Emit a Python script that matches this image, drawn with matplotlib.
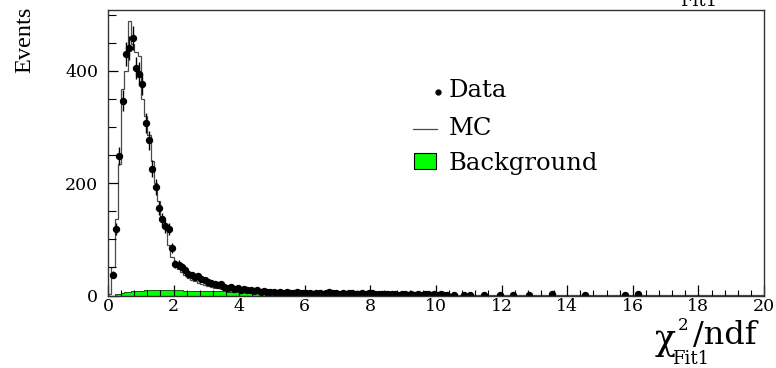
import numpy as np
import matplotlib
matplotlib.use("Agg")
import matplotlib.pyplot as plt
from matplotlib.patches import Rectangle
from matplotlib.lines import Line2D
from matplotlib.ticker import MultipleLocator

# Histogram binning: 200 bins of width 0.1 on [0, 20]
bin_width = 0.1
edges = np.round(np.arange(0, 20.0 + 1e-9, bin_width), 2)

# Observed events per bin
data_counts = [
    0, 37, 119, 248, 347, 430, 440, 459, 405, 395,
    377, 307, 276, 226, 193, 156, 136, 123, 118, 85,
    56, 55, 50, 46, 39, 36, 33, 34, 30, 27,
    24, 22, 21, 18, 20, 16, 14, 15, 12, 14,
    10, 11, 9, 10, 8, 9, 7, 8, 6, 7,
    6, 5, 7, 5, 6, 4, 5, 6, 4, 5,
    4, 5, 3, 4, 5, 3, 4, 6, 5, 4,
    3, 4, 3, 5, 4, 3, 3, 4, 3, 5,
    4, 3, 3, 2, 3, 2, 3, 2, 1, 3,
    2, 1, 2, 1, 2, 1, 3, 2, 1, 2,
    1, 2, 1, 1, 0, 1, 0, 0, 1, 0,
    1, 0, 0, 0, 1, 0, 0, 0, 0, 1,
    0, 0, 0, 1, 0, 0, 0, 0, 1, 0,
    0, 0, 0, 0, 0, 3, 0, 0, 0, 0,
    0, 0, 0, 0, 0, 1, 0, 0, 0, 0,
    0, 0, 0, 0, 0, 0, 0, 1, 0, 0,
    0, 3, 0, 0, 0, 0, 0, 0, 0, 0,
    0, 0, 0, 0, 0, 0, 0, 0, 0, 0,
    0, 0, 0, 0, 0, 0, 0, 0, 0, 0,
    0, 0, 0, 0, 0, 0, 0, 0, 0, 0,
]

# Simulated (MC) expectation per bin
mc_counts = [
    2, 50, 136, 234, 368, 400, 488, 448, 433, 427,
    350, 320, 285, 240, 200, 168, 140, 118, 89, 69,
    55, 47, 41, 36, 31, 28, 25, 22.5, 20, 18,
    16.5, 15, 14, 13, 12, 11, 10, 9.3, 8.6, 8,
    7.5, 7.1, 6.7, 6.3, 6.0, 5.7, 5.4, 5.1, 4.9, 4.7,
    4.5, 4.3, 4.1, 3.9, 3.8, 3.6, 3.5, 3.4, 3.3, 3.2,
    3.1, 3.0, 2.9, 2.8, 2.8, 2.7, 2.6, 2.6, 2.5, 2.4,
    2.4, 2.3, 2.3, 2.2, 2.2, 2.1, 2.1, 2.0, 2.0, 1.9,
    1.9, 1.8, 1.8, 1.8, 1.7, 1.7, 1.6, 1.6, 1.6, 1.5,
    1.5, 1.5, 1.4, 1.4, 1.4, 1.3, 1.3, 1.3, 1.2, 1.2,
    1.2, 1.2, 1.1, 1.1, 1.1, 1.0, 1.1, 1.0, 1.0, 1.0,
    0.9, 1.0, 0.9, 0.9, 0.9, 0.8, 0.9, 0.8, 0.8, 0.8,
    0.8, 0.7, 0.8, 0.7, 0.7, 0.7, 0.7, 0.6, 0.7, 0.6,
    0.6, 0.6, 0.6, 0.6, 0.5, 0.6, 0.5, 0.5, 0.5, 0.5,
    0.5, 0.5, 0.5, 0.4, 0.5, 0.4, 0.4, 0.5, 0.4, 0.4,
    0.4, 0.4, 0.4, 0.4, 0.3, 0.4, 0.3, 0.4, 0.3, 0.3,
    0.3, 0.3, 0.3, 0.3, 0.3, 0.3, 0.3, 0.2, 0.3, 0.3,
    0.2, 0.3, 0.2, 0.2, 0.2, 0.3, 0.2, 0.2, 0.2, 0.2,
    0.2, 0.2, 0.2, 0.2, 0.2, 0.2, 0.1, 0.2, 0.2, 0.2,
    0.1, 0.2, 0.1, 0.1, 0.2, 0.1, 0.1, 0.1, 0.1, 0.1,
]

# Background contribution per bin (zero above 8.6)
bg_counts = [
    0, 0, 2, 3.5, 4.5, 5.5, 6.5, 7.5, 8, 8.5,
    8.8, 9, 9, 9.2, 9.2, 9.3, 9.3, 9.2, 9.2, 9.1,
    9, 9, 8.9, 8.8, 8.7, 8.6, 8.5, 8.4, 8.2, 8.1,
    8, 7.9, 7.7, 7.6, 7.4, 7.2, 7.0, 6.8, 6.6, 6.3,
    6.0, 5.7, 5.4, 5.1, 4.8, 4.5, 4.2, 4.0, 3.8, 3.6,
    3.4, 3.2, 3.0, 2.9, 2.8, 2.7, 2.6, 2.5, 2.4, 2.3,
    2.2, 2.1, 2.0, 1.9, 1.8, 1.7, 1.6, 1.6, 1.5, 1.4,
    1.4, 1.3, 1.3, 1.2, 1.2, 1.1, 1.1, 1.0, 1.0, 0.9,
    0.9, 0.8, 0.8, 0.7, 0.6, 0.5,
] + [0] * 114

x_ticks = list(range(0, 21, 2))
y_ticks = [0, 200, 400]
legend_labels = ["Data", "MC", "Background"]

W, H = 776, 368
SERIF = "DejaVu Serif"
plt.rcParams["font.family"] = SERIF

fig = plt.figure(figsize=(W / 100, H / 100), dpi=100)
left, right, top, bottom = 108, 764, 9.5, 295.5
ax = fig.add_axes([left / W, 1 - bottom / H, (right - left) / W, (bottom - top) / H])

data = np.asarray(data_counts, float)
mc = np.asarray(mc_counts, float)
bg = np.asarray(bg_counts, float)
centers = edges[:-1] + bin_width / 2

# Background: filled green histogram
ax.stairs(bg, edges, fill=True, color="#00ff00", zorder=1)
ax.stairs(bg, edges, color="#1b3d1b", lw=0.6, zorder=1.5)

# MC: thin step line
ax.stairs(mc, edges, color="#4a4a4a", lw=0.9, zorder=2)

# Data: points with statistical errors
m = data > 0
ax.errorbar(centers[m], data[m], xerr=bin_width / 2, yerr=np.sqrt(data[m]),
            fmt="o", ms=4.3, color="black", elinewidth=1.0, capsize=0, zorder=3)

ax.set_xlim(0, 20)
ax.set_ylim(0, 509)
ax.set_xticks(x_ticks)
ax.set_yticks(y_ticks)
ax.xaxis.set_minor_locator(MultipleLocator(0.4))
ax.yaxis.set_minor_locator(MultipleLocator(50))
ax.tick_params(axis="x", which="major", direction="in", length=8, width=0.9,
               labelsize=12.5, pad=2, top=False)
ax.tick_params(axis="x", which="minor", direction="in", length=4, width=0.8, top=False)
ax.tick_params(axis="y", which="major", direction="in", length=7, width=0.9,
               labelsize=12.5, pad=7, right=False)
ax.tick_params(axis="y", which="minor", direction="in", length=6, width=0.8, right=False)
ax.set_axisbelow(False)
for s in ax.spines.values():
    s.set_color("#333333")
    s.set_linewidth(1.0)
    s.set_zorder(5)


def fx(px):
    return px / W


def fy(py):
    return 1 - py / H


# Axis titles
fig.text(fx(25), fy(40), "Events", rotation=90, ha="center", va="center",
         fontfamily="Liberation Serif", fontsize=17.5)
fig.text(fx(655), fy(350), "χ", ha="left", va="baseline", fontsize=25)
fig.text(fx(678), fy(330), "2", ha="left", va="baseline", fontsize=12)
fig.text(fx(672), fy(364), "Fit1", ha="left", va="baseline", fontsize=13)
fig.text(fx(693), fy(344), "/ndf", ha="left", va="baseline", fontsize=23)

# Title fragment at the top edge
fig.text(fx(680), fy(5.7), "Fit1", ha="left", va="baseline", fontsize=13)

# Legend
fig.add_artist(Line2D([fx(438)], [fy(92)], marker="o", ms=3.5, color="black",
                      transform=fig.transFigure))
fig.add_artist(Line2D([fx(413), fx(437)], [fy(129), fy(129)], color="#4a4a4a", lw=0.9,
                      transform=fig.transFigure))
fig.add_artist(Rectangle((fx(414), fy(169)), fx(22), 16 / H, facecolor="#00ff00",
                         edgecolor="black", lw=0.8, transform=fig.transFigure))
for label, base in zip(legend_labels, [97, 135, 170]):
    fig.text(fx(449), fy(base), label, ha="left", va="baseline", fontsize=17.5)

fig.savefig("out.png", dpi=100)
